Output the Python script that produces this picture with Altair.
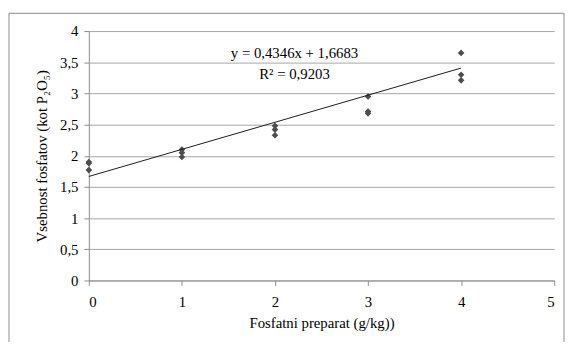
import altair as alt
import pandas as pd

# data
dose = [0, 0, 0, 1, 1, 1, 2, 2, 2, 3, 3, 3, 4, 4, 4]
phos = [1.90, 1.88, 1.77, 2.10, 2.05, 1.98, 2.48, 2.42, 2.33, 2.95, 2.71, 2.68, 3.65, 3.30, 3.21]

trend_x = [0, 4]
trend_y = [1.6683, 3.4067]

ann_x = [2.21, 2.21]
ann_y = [3.64, 3.31]
ann_text = ["y = 0,4346x + 1,6683", "R² = 0,9203"]

x_ticks = [0, 1, 2, 3, 4, 5]
y_ticks = [0, 0.5, 1, 1.5, 2, 2.5, 3, 3.5, 4]

pts = pd.DataFrame({"x": dose, "y": phos})
trend = pd.DataFrame({"x": trend_x, "y": trend_y})
ann = pd.DataFrame({"x": ann_x, "y": ann_y, "t": ann_text})

FONT = "Liberation Serif"

xs = alt.Scale(domain=[0, 5], nice=False, zero=False)
ys = alt.Scale(domain=[0, 4], nice=False)

xaxis = alt.Axis(values=x_ticks, title="Fosfatni preparat (g/kg))", grid=False,
                 tickSize=5, labelPadding=9, titlePadding=7, labelOverlap=False,
                 labelExpr="replace(toString(datum.value), '.', ',')")
yaxis = alt.Axis(values=y_ticks, title="Vsebnost fosfatov (kot P₂O₅)", grid=True,
                 tickSize=5, labelPadding=6, titlePadding=10, labelOverlap=False,
                 labelExpr="replace(toString(datum.value), '.', ',')")

frame = alt.Chart(pd.DataFrame({"a": [0]})).mark_rect(
    fill=None, stroke="#8c8c8c", strokeWidth=1
).encode(
    x=alt.value(-81), x2=alt.value(482), y=alt.value(-18), y2=alt.value(330)
)

points = alt.Chart(pts).mark_point(
    shape="diamond", filled=True, color="#4d4d4d", size=45, opacity=1
).encode(
    x=alt.X("x:Q", scale=xs, axis=xaxis),
    y=alt.Y("y:Q", scale=ys, axis=yaxis),
)

line = alt.Chart(trend).mark_line(color="#1a1a1a", strokeWidth=1).encode(
    x=alt.X("x:Q", scale=xs, axis=xaxis),
    y=alt.Y("y:Q", scale=ys, axis=yaxis),
)

text = alt.Chart(ann).mark_text(font=FONT, fontSize=15, color="#000000").encode(
    x=alt.X("x:Q", scale=xs, axis=xaxis),
    y=alt.Y("y:Q", scale=ys, axis=yaxis),
    text="t:N",
)

chart = alt.layer(frame, points, line, text).properties(
    width=472, height=253,
    autosize=alt.AutoSizeParams(type="none"),
    padding={"left": 82, "top": 21, "right": 12, "bottom": 60},
).configure(background="white").configure_view(stroke=None).configure_axis(
    labelFont=FONT, titleFont=FONT, labelFontSize=15, titleFontSize=15,
    labelColor="#000000", titleColor="#000000", titleFontWeight="normal",
    domainColor="#8c8c8c", tickColor="#8c8c8c", gridColor="#a6a6a6",
    gridOpacity=1, domainWidth=1, gridWidth=1,
)

chart.save("out.html", embed_options={"renderer": "svg", "actions": False})
